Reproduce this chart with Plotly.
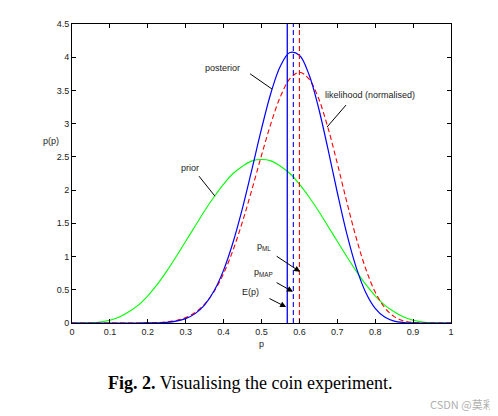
import plotly.graph_objects as go

# ---- data ----
p = [0.0, 0.025, 0.05, 0.075, 0.1, 0.125, 0.15, 0.175, 0.2, 0.225,
     0.25, 0.275, 0.3, 0.325, 0.35, 0.375, 0.4, 0.425, 0.45, 0.475,
     0.5, 0.525, 0.55, 0.575, 0.6, 0.625, 0.65, 0.675, 0.7, 0.725,
     0.75, 0.775, 0.8, 0.825, 0.85, 0.875, 0.9, 0.925, 0.95, 0.975, 1.0]

prior = [0.0, 0.0, 0.003, 0.015, 0.04, 0.09, 0.17, 0.27, 0.41, 0.58,
         0.78, 1.0, 1.23, 1.46, 1.69, 1.9, 2.09, 2.25, 2.36, 2.44,
         2.46, 2.44, 2.36, 2.25, 2.09, 1.9, 1.69, 1.46, 1.23, 1.0,
         0.78, 0.58, 0.41, 0.27, 0.17, 0.09, 0.04, 0.015, 0.003, 0.0, 0.0]

likelihood = [0.0, 0.0, 0.0, 0.0, 0.0, 0.0, 0.0, 0.0004, 0.002, 0.006,
              0.016, 0.038, 0.081, 0.158, 0.285, 0.476, 0.746, 1.098, 1.528, 2.014,
              2.523, 3.005, 3.408, 3.677, 3.774, 3.674, 3.389, 2.945, 2.402, 1.824,
              1.279, 0.816, 0.465, 0.231, 0.096, 0.032, 0.008, 0.001, 0.0, 0.0, 0.0]

posterior = [0.0, 0.0, 0.0, 0.0, 0.0, 0.0, 0.0, 0.0, 0.001, 0.003,
             0.01, 0.028, 0.066, 0.141, 0.273, 0.485, 0.796, 1.215, 1.733, 2.321,
             2.921, 3.466, 3.869, 4.071, 4.029, 3.743, 3.251, 2.627, 1.964, 1.344,
             0.833, 0.46, 0.221, 0.089, 0.029, 0.007, 0.001, 0.0, 0.0, 0.0, 0.0]

E_p = 0.568
p_MAP = 0.584
p_ML = 0.600
y_max = 4.5

x_ticks = [0, 0.1, 0.2, 0.3, 0.4, 0.5, 0.6, 0.7, 0.8, 0.9, 1]
x_tick_labels = ["0", "0.1", "0.2", "0.3", "0.4", "0.5", "0.6", "0.7", "0.8", "0.9", "1"]
y_ticks = [0, 0.5, 1, 1.5, 2, 2.5, 3, 3.5, 4, 4.5]
y_tick_labels = ["0", "0.5", "1", "1.5", "2", "2.5", "3", "3.5", "4", "4.5"]

BLUE = "#0000ff"
RED = "#ff0000"
GREEN = "#00ff00"
SANS = "Liberation Sans, Arial, sans-serif"
TXT = "#222222"

fig = go.Figure()
fig.add_trace(go.Scatter(x=p, y=prior, mode="lines", line=dict(color=GREEN, width=1.1, shape="spline", smoothing=1),
                         showlegend=False, hoverinfo="skip"))
fig.add_trace(go.Scatter(x=p, y=likelihood, mode="lines",
                         line=dict(color=RED, width=1.1, dash="5px,3px", shape="spline", smoothing=1),
                         showlegend=False, hoverinfo="skip"))
fig.add_trace(go.Scatter(x=p, y=posterior, mode="lines", line=dict(color=BLUE, width=1.2, shape="spline", smoothing=1),
                         showlegend=False, hoverinfo="skip"))

# vertical marker lines
fig.add_trace(go.Scatter(x=[E_p, E_p], y=[0, y_max], mode="lines", line=dict(color=BLUE, width=1.3),
                         showlegend=False, hoverinfo="skip"))
fig.add_trace(go.Scatter(x=[p_MAP, p_MAP], y=[0, y_max], mode="lines",
                         line=dict(color=BLUE, width=1.1, dash="5px,3px"), showlegend=False, hoverinfo="skip"))
fig.add_trace(go.Scatter(x=[p_ML, p_ML], y=[0, y_max], mode="lines",
                         line=dict(color=RED, width=1.1, dash="5px,3px"), showlegend=False, hoverinfo="skip"))

# leader lines (no arrowheads)
for (x0, y0, x1, y1) in [(0.470, 3.75, 0.528, 3.52),
                         (0.723, 3.28, 0.673, 2.95),
                         (0.335, 2.21, 0.377, 1.91)]:
    fig.add_shape(type="line", x0=x0, y0=y0, x1=x1, y1=y1, xref="x", yref="y",
                  line=dict(color="black", width=1))

ann = []
def label(text, x, y):
    ann.append(dict(text=text, x=x, y=y, xref="x", yref="y", showarrow=False,
                    xanchor="center", yanchor="middle",
                    font=dict(family=SANS, size=9, color=TXT)))

label("posterior", 0.398, 3.84)
label("likelihood (normalised)", 0.786, 3.43)
label("prior", 0.311, 2.33)
label("p<sub>ML</sub>", 0.506, 1.15)
label("p<sub>MAP</sub>", 0.506, 0.76)
label("E(p)", 0.470, 0.47)

for (tx, ty, hx, hy) in [(0.536, 1.02, 0.602, 0.77),
                         (0.536, 0.62, 0.583, 0.47),
                         (0.517, 0.38, 0.565, 0.24)]:
    ann.append(dict(text="", x=hx, y=hy, ax=tx, ay=ty, xref="x", yref="y", axref="x", ayref="y",
                    showarrow=True, arrowhead=2, arrowsize=1.2, arrowwidth=1, arrowcolor="black",
                    startstandoff=0, standoff=0))

def paper_text(text, x, y, font, xanchor="center"):
    ann.append(dict(text=text, x=x, y=y, xref="paper", yref="paper", showarrow=False,
                    xanchor=xanchor, yanchor="middle", font=font))

# axis titles
paper_text("p", 0.5, -0.07, dict(family=SANS, size=9, color=TXT))
paper_text("p(p)", -0.055, 0.609, dict(family=SANS, size=9, color=TXT))
# caption
paper_text("<b>Fig. 2.</b> Visualising the coin experiment.", 0.47, -0.199,
           dict(family="Liberation Serif, Times New Roman, serif", size=18, color="black"))
# watermark
paper_text("CSDN @莫彩", 1.118, -0.271,
           dict(family="Noto Sans CJK SC, sans-serif", size=11, color="#b0b0b0"), xanchor="right")

axis_common = dict(showline=True, linecolor="black", linewidth=1, mirror="ticks", ticks="inside",
                   ticklen=4, tickcolor="black", showgrid=False, zeroline=False,
                   tickfont=dict(family=SANS, size=9, color=TXT))

# the page body adds an 8px offset, so the figure is 8px smaller and margins shifted
fig.update_layout(
    width=490, height=408,
    margin=dict(l=64, r=47, t=16, b=93),
    paper_bgcolor="white", plot_bgcolor="white",
    xaxis=dict(range=[0, 1], tickvals=x_ticks, ticktext=x_tick_labels, **axis_common),
    yaxis=dict(range=[0, y_max], tickvals=y_ticks, ticktext=y_tick_labels, **axis_common),
    annotations=ann,
    showlegend=False,
)

fig.write_html("out.html")
